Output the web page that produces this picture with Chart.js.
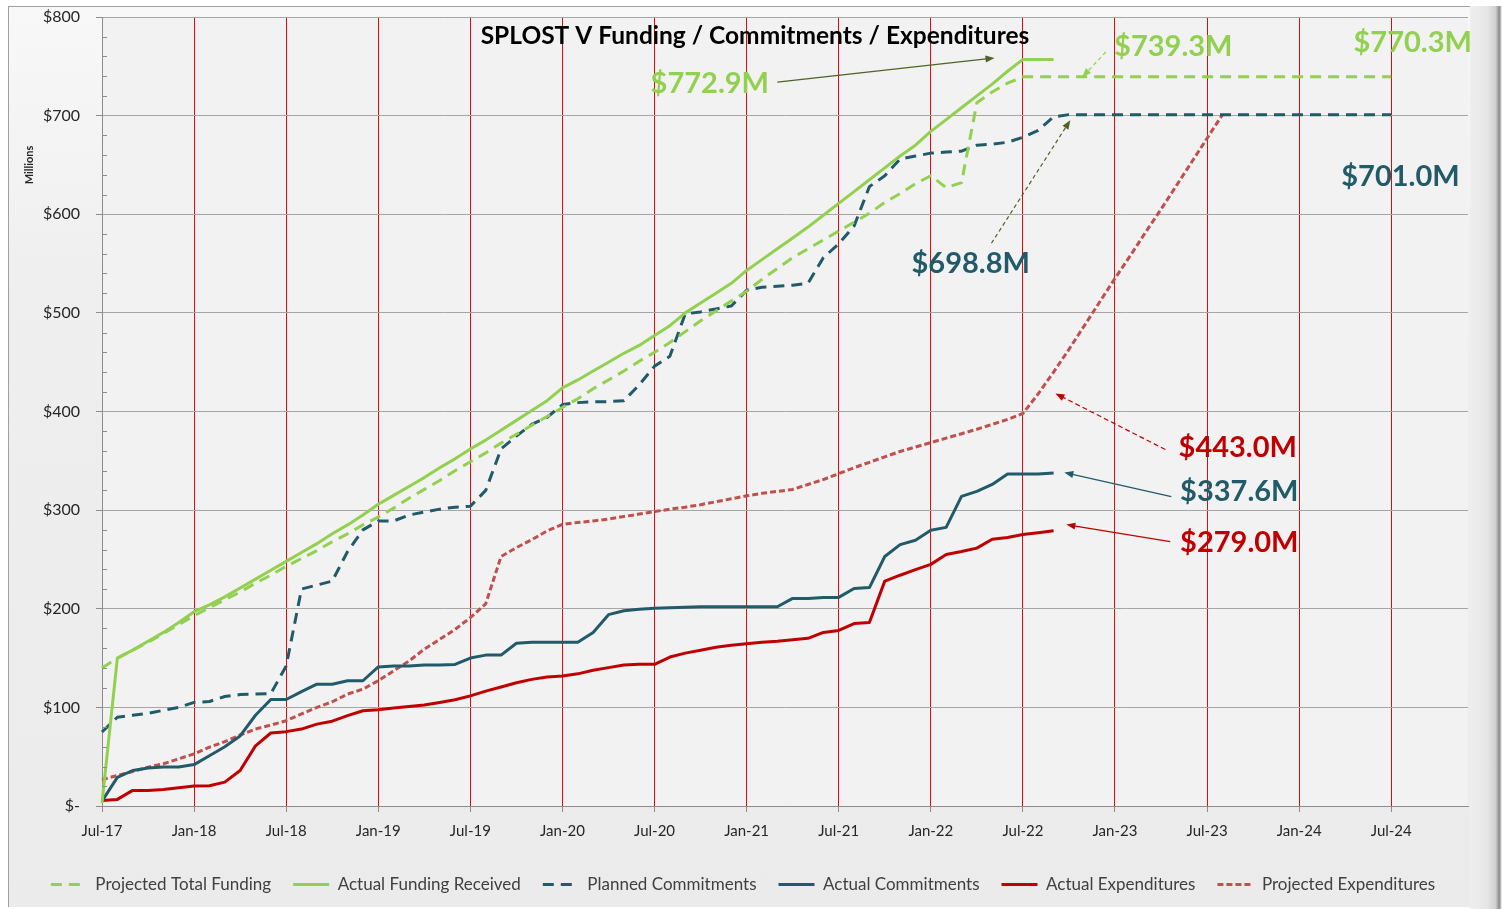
<!DOCTYPE html>
<html>
<head>
<meta charset="utf-8">
<script src="https://cdn.jsdelivr.net/npm/chart.js@4/dist/chart.umd.min.js"></script>
<style>
html,body{margin:0;padding:0;background:#fff;width:1502px;height:909px;overflow:hidden;}
#frame{position:absolute;left:8px;top:6px;width:1486px;height:900px;border-left:1px solid #a0a0a0;border-top:1px solid #a0a0a0;
  background:linear-gradient(180deg,#f8f8f8 0%,#efefef 30%,#ebebeb 100%);}
#shade{position:absolute;left:1470px;top:6px;width:32px;height:903px;
  background:linear-gradient(90deg,#eeeeee 0%,#e6e6e6 55%,#cfcfcf 80%,#8a8a8a 92%,#ffffff 100%);}
#wrap{position:absolute;left:0;top:0;width:1502px;height:909px;}
</style>
</head>
<body>
<div id="frame"></div>
<div id="shade"></div>
<div id="wrap"><canvas id="c"></canvas></div>
<script>
// ---------- categories (Jul-17 .. Dec-24) ----------
const months = [
 'Jul-17','Aug-17','Sep-17','Oct-17','Nov-17','Dec-17',
 'Jan-18','Feb-18','Mar-18','Apr-18','May-18','Jun-18','Jul-18','Aug-18','Sep-18','Oct-18','Nov-18','Dec-18',
 'Jan-19','Feb-19','Mar-19','Apr-19','May-19','Jun-19','Jul-19','Aug-19','Sep-19','Oct-19','Nov-19','Dec-19',
 'Jan-20','Feb-20','Mar-20','Apr-20','May-20','Jun-20','Jul-20','Aug-20','Sep-20','Oct-20','Nov-20','Dec-20',
 'Jan-21','Feb-21','Mar-21','Apr-21','May-21','Jun-21','Jul-21','Aug-21','Sep-21','Oct-21','Nov-21','Dec-21',
 'Jan-22','Feb-22','Mar-22','Apr-22','May-22','Jun-22','Jul-22','Aug-22','Sep-22','Oct-22','Nov-22','Dec-22',
 'Jan-23','Feb-23','Mar-23','Apr-23','May-23','Jun-23','Jul-23','Aug-23','Sep-23','Oct-23','Nov-23','Dec-23',
 'Jan-24','Feb-24','Mar-24','Apr-24','May-24','Jun-24','Jul-24','Aug-24','Sep-24','Oct-24','Nov-24','Dec-24'
];

// ---------- series ($ millions) ----------
const projectedTotalFunding = [
 140,150,158,166,175,184,193,201,209,217,226,234,243,251,259,268,276,285,
 293,302,312,321,330,340,349,358,368,377,386,395,404,413,423,432,441,451,
 460,470,481,492,502,512,522,534,545,556,565,574,583,592,601,612,621,631,
 639,627,632,713,724,733,739.3,739.3,739.3,739.3,739.3,739.3,739.3,739.3,739.3,739.3,
 739.3,739.3,739.3,739.3,739.3,739.3,739.3,739.3,739.3,739.3,739.3,739.3,739.3,739.3,739.3
];
const actualFundingReceived = [
 3,150,158,167,176,186,197,204,212,221,230,239,248,257,266,276,285,295,
 306,315,324,333,343,352,362,371,381,391,401,411,424,432,441,450,459,467,
 477,487,500,510,520,530,543,554,565,576,587,599,611,623,635,647,659,670,
 684,696,708,720,732,745,757,757,757
];
const plannedCommitments = [
 75,90,92,94,97,100,105,106,111,113,113.5,114,142,220,224,228,258,280,
 289,289,295,298,301,303,304,320,362,375,387,394,407,409,410,410,411,427,
 446,456,499,501,504,507,523,526,527,528,530,556,570,588,628,639,656,659,
 662,663,664,670,671,673,678,685,698.8,701,701,701,701,701,701,701,
 701,701,701,701,701,701,701,701,701,701,701,701,701,701,701
];
const actualCommitments = [
 5,29,36,38.5,39.5,39.5,42,51,60,71,92,108,108,116,123.5,123.5,127,127,
 141,142,142,143,143,143.5,150,153,153,165,166,166,166,166,176,194,198,199.5,
 200.5,201,201.5,202,202,202,202,202,202,210.5,210.5,211.5,211.5,220.5,221.5,253,265,269.5,
 279.5,282.5,314,319,326,336.6,336.6,336.6,337.6
];
const actualExpenditures = [
 5.7,6.7,15.8,15.8,16.8,18.5,20.2,20.5,24.2,36,61,74,75.4,78,83,86,91.6,96.6,
 97.6,99.3,101,102.4,105,107.7,111.7,116.5,120.6,125,128.4,130.8,131.8,134,137.6,140.3,143,143.7,
 143.7,151,155,158,161,163,164.5,166,167,168.5,170,176,178,185,186,228,234,239.6,
 245,255,258,261.5,270.5,272.3,275.2,277,279
];
const projectedExpenditures = [
 26.6,31,35,39.4,42.8,47.8,52.9,59.6,65.3,72,78,82,86.5,93.3,100,105.7,113.5,118.5,
 127,137,147,159,169,179,191,205,253,262,270,279,285.5,287.5,289,291,293.5,296,
 298.5,301,303,305.5,308.5,311.5,314.5,317,319,321,326,331,337,343,348.5,354,359.5,364,
 368.5,373,377.5,382,387,392,398,418,440,463,487,511,535,558,582,605,629,653,677,701
];

// ---------- y tick labels ----------
const yTickValues = [0,100,200,300,400,500,600,700,800];
const yTickLabels = ['$-','$100','$200','$300','$400','$500','$600','$700','$800'];

const GREEN = '#92d050', TEAL = '#215a69', RED = '#c00000', BRICK = '#c0504d';

// ---------- annotations (data coordinates: month index, $M) ----------
const callouts = [
 {text:'$772.9M', color:GREEN, i:39.6, v:732},
 {text:'$739.3M', color:GREEN, i:69.8, v:769.5},
 {text:'$770.3M', color:GREEN, i:85.4, v:773.6},
 {text:'$698.8M', color:TEAL,  i:56.6, v:550.3},
 {text:'$701.0M', color:TEAL,  i:84.6, v:638.6},
 {text:'$443.0M', color:RED,   i:74.0, v:363.5},
 {text:'$337.6M', color:TEAL,  i:74.1, v:318.8},
 {text:'$279.0M', color:RED,   i:74.1, v:267}
];
const arrows = [
 {from:[44.0,734.0], to:[58.15,758.4], color:'#4f6228', dash:[]},
 {from:[65.4,764.5], to:[63.87,739.1], color:GREEN, dash:[4,3]},
 {from:[57.95,570.6], to:[63.09,695.4], color:'#4f6228', dash:[4,3]},
 {from:[69.28,361.4], to:[62.12,418.3], color:RED, dash:[5,3]},
 {from:[69.67,313.7], to:[62.7,338.1], color:TEAL, dash:[]},
 {from:[69.6,268.0], to:[62.83,285.3], color:RED, dash:[]}
];

const FONT = 'Lato, "Open Sans", sans-serif';

const bgPlugin = {
  id:'bg',
  beforeDraw(chart){
    const {ctx, chartArea:a} = chart;
    ctx.save();
    ctx.fillStyle = '#f2f2f2';
    ctx.fillRect(a.left, a.top, a.right-a.left, a.bottom-a.top);
    ctx.restore();
  },
  afterDraw(chart){
    const {ctx, chartArea:a, scales:{x,y}} = chart;
    ctx.save();
    // minor ticks on y axis
    ctx.strokeStyle = '#8c8c8c'; ctx.lineWidth = 1;
    for (let v=20; v<800; v+=20){
      if (v%100===0) continue;
      const py = Math.round(y.getPixelForValue(v))+0.5;
      ctx.beginPath(); ctx.moveTo(a.left, py); ctx.lineTo(a.left+5, py); ctx.stroke();
    }
    // axis unit label
    ctx.save();
    ctx.translate(29, 165); ctx.rotate(-Math.PI/2);
    ctx.fillStyle = '#262626'; ctx.font = 'bold 11px '+FONT;
    ctx.textAlign = 'center'; ctx.textBaseline = 'middle';
    ctx.fillText('Millions', 0, 0);
    ctx.restore();
    // title
    ctx.fillStyle = '#000';
    ctx.font = 'bold 24.5px '+FONT;
    ctx.textAlign = 'center'; ctx.textBaseline = 'middle';
    ctx.fillText('SPLOST V Funding / Commitments / Expenditures', 755, a.top+19);
    // arrows
    arrows.forEach(ar=>{
      const x1 = x.getPixelForValue(ar.from[0]), y1 = y.getPixelForValue(ar.from[1]);
      const x2 = x.getPixelForValue(ar.to[0]),   y2 = y.getPixelForValue(ar.to[1]);
      ctx.strokeStyle = ar.color; ctx.fillStyle = ar.color; ctx.lineWidth = 1.2;
      ctx.setLineDash(ar.dash);
      const ang = Math.atan2(y2-y1, x2-x1);
      ctx.beginPath(); ctx.moveTo(x1,y1); ctx.lineTo(x2-6*Math.cos(ang), y2-6*Math.sin(ang)); ctx.stroke();
      ctx.setLineDash([]);
      ctx.beginPath();
      ctx.moveTo(x2,y2);
      ctx.lineTo(x2-9*Math.cos(ang)+3.5*Math.sin(ang), y2-9*Math.sin(ang)-3.5*Math.cos(ang));
      ctx.lineTo(x2-9*Math.cos(ang)-3.5*Math.sin(ang), y2-9*Math.sin(ang)+3.5*Math.cos(ang));
      ctx.closePath(); ctx.fill();
    });
    // callout labels
    ctx.font = 'bold 29px '+FONT;
    callouts.forEach(c=>{
      ctx.fillStyle = c.color;
      ctx.fillText(c.text, x.getPixelForValue(c.i), y.getPixelForValue(c.v));
    });
    ctx.restore();
  }
};

function ds(label, data, color, dash){
  return {label, data, borderColor:color, backgroundColor:color, borderWidth:3,
    borderDash:dash, pointRadius:0, pointHoverRadius:0, tension:0, fill:false,
    borderCapStyle:'butt', borderJoinStyle:'round'};
}

new Chart(document.getElementById('c'), {
  type:'line',
  data:{
    labels: months,
    datasets:[
      ds('Projected Total Funding', projectedTotalFunding, GREEN, [11,7]),
      ds('Actual Funding Received', actualFundingReceived, GREEN, []),
      ds('Planned Commitments', plannedCommitments, TEAL, [11,7]),
      ds('Actual Commitments', actualCommitments, TEAL, []),
      ds('Actual Expenditures', actualExpenditures, RED, []),
      ds('Projected Expenditures', projectedExpenditures, BRICK, [6,3])
    ]
  },
  options:{
    responsive:true, maintainAspectRatio:false, animation:false,
    layout:{padding:{left:18, right:34, top:17, bottom:6}},
    plugins:{
      tooltip:{enabled:false},
      title:{display:false},
      legend:{
        position:'bottom',
        labels:{
          usePointStyle:true, pointStyle:'line', pointStyleWidth:36,
          padding:22, color:'#404040',
          font:{family:FONT, size:17},
          generateLabels(chart){
            const items = Chart.defaults.plugins.legend.labels.generateLabels(chart);
            items.forEach(it=>{
              const d = chart.data.datasets[it.datasetIndex];
              it.lineDash = d.borderDash; it.lineWidth = 3; it.lineCap = 'butt';
              it.strokeStyle = d.borderColor; it.fillStyle = d.borderColor;
              it.pointStyle = 'line';
            });
            return items;
          }
        }
      }
    },
    scales:{
      x:{
        type:'category', offset:false,
        afterFit(s){ s.height = 48; },
        border:{color:'#8c8c8c', width:1},
        grid:{
          color:(c)=> (c.index%6===0 && c.index>0) ? 'rgba(214,0,0,0.95)' : 'rgba(0,0,0,0)',
          tickColor:(c)=> (c.index%6===0) ? '#8c8c8c' : 'rgba(0,0,0,0)',
          tickLength:6, lineWidth:1
        },
        ticks:{
          autoSkip:false, maxRotation:0, minRotation:0, padding:10,
          color:'#262626', font:{family:FONT, size:15},
          callback:(v,i)=> i%6===0 ? months[i] : ''
        }
      },
      y:{
        min:0, max:800,
        afterFit(s){ s.width = 84; s.paddingTop = 6; s.paddingBottom = 6; },
        afterBuildTicks(s){ s.ticks = yTickValues.map(v=>({value:v})); },
        border:{color:'#8c8c8c', width:1},
        grid:{color:'#a6a6a6', tickColor:'#8c8c8c', tickLength:6, lineWidth:1},
        ticks:{
          padding:16, color:'#262626', font:{family:FONT, size:16},
          callback:(v)=> yTickLabels[yTickValues.indexOf(v)]
        }
      }
    }
  },
  plugins:[bgPlugin]
});
</script>
</body>
</html>
